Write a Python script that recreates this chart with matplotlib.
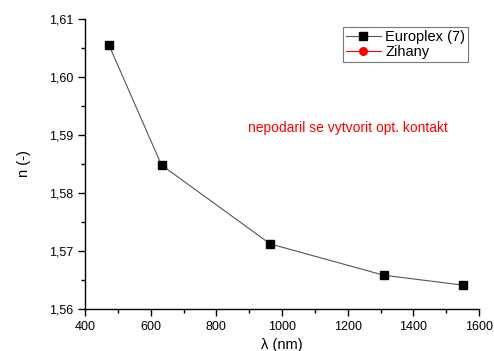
import matplotlib
matplotlib.use("Agg")
import matplotlib.pyplot as plt
from matplotlib.ticker import MultipleLocator, FuncFormatter

plt.rcParams['font.family'] = ['Liberation Sans', 'DejaVu Sans']

# Europlex (7)
wl = [473, 633, 964, 1310, 1550]
n_europlex = [1.6055, 1.5848, 1.5712, 1.5658, 1.5641]
# Zihany - no data
wl_zihany = []
n_zihany = []

fig = plt.figure(figsize=(4.94, 3.51), dpi=100)
ax = fig.add_axes([0.172, 0.12, 0.798, 0.826])

ax.plot(wl, n_europlex, color="#555555", lw=0.8, marker="s", ms=5.5,
        mfc="black", mec="black", label="Europlex (7)")
ax.plot(wl_zihany, n_zihany, color="red", lw=0.8, marker="o", ms=5.5,
        mfc="red", mec="red", label="Zihany")

ax.set_xlim(400, 1600)
ax.set_ylim(1.56, 1.61)
ax.xaxis.set_major_locator(MultipleLocator(200))
ax.xaxis.set_minor_locator(MultipleLocator(100))
ax.yaxis.set_major_locator(MultipleLocator(0.01))
ax.yaxis.set_minor_locator(MultipleLocator(0.005))
ax.yaxis.set_major_formatter(FuncFormatter(lambda v, p: f"{v:.2f}".replace(".", ",")))

for s in ["top", "right"]:
    ax.spines[s].set_visible(False)
for s in ["left", "bottom"]:
    ax.spines[s].set_linewidth(1.0)
ax.tick_params(which="major", direction="out", length=5, width=1, labelsize=9)
ax.tick_params(which="minor", direction="out", length=3, width=1)

ax.set_xlabel("λ (nm)", fontsize=10.5, labelpad=4)
ax.set_ylabel("n (-)", fontsize=10.5, labelpad=13)

ax.text(0.414, 0.624, "nepodaril se vytvorit opt. kontakt", color="red",
        fontsize=10, transform=ax.transAxes, va="center")

leg = ax.legend(loc="upper right", bbox_to_anchor=(0.972, 0.972), fontsize=10.5,
                frameon=True, fancybox=False, handlelength=2.4, borderaxespad=0,
                borderpad=0.2, labelspacing=0.1, handletextpad=0.3)
leg.get_frame().set_edgecolor("#555555")
leg.get_frame().set_linewidth(0.8)

fig.savefig("out.png", dpi=100)
